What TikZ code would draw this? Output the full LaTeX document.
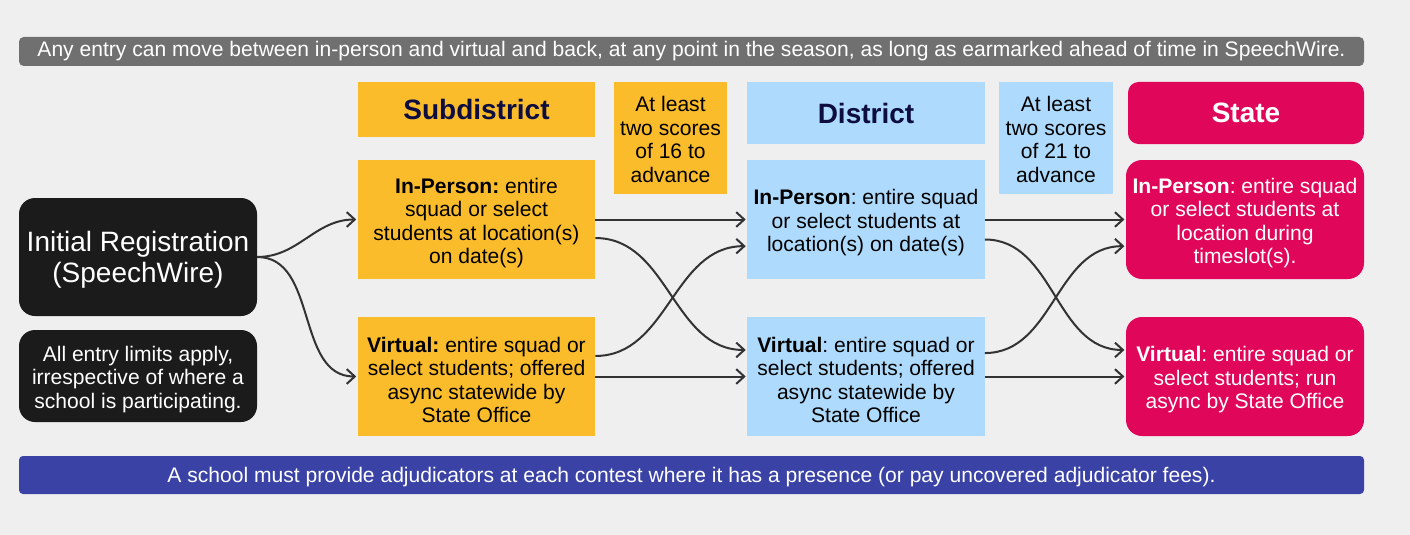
\documentclass[tikz,border=0pt]{standalone}
\usepackage{fontspec}
\setmainfont{Liberation Sans}
\usetikzlibrary{arrows.meta}
\definecolor{bgc}{HTML}{EFEFEF}
\definecolor{topc}{HTML}{707070}
\definecolor{blackc}{HTML}{1B1B1B}
\definecolor{yelc}{HTML}{FBBC2C}
\definecolor{bluec}{HTML}{AEDBFD}
\definecolor{redc}{HTML}{E0065A}
\definecolor{botc}{HTML}{3A43A5}
\definecolor{navyc}{HTML}{0D0D40}
\definecolor{arrc}{HTML}{333333}
\newcommand{\dnA}{\rule{0pt}{16.5pt}}
\newcommand{\dnB}{\rule{0pt}{20pt}}
\newcommand{\dnC}{\rule{0pt}{13.5pt}}
\newcommand{\dnD}{\rule{0pt}{15pt}}
\frenchspacing
\begin{document}
\frenchspacing
\begin{tikzpicture}[x=0.75pt,y=-0.75pt,
  bx/.style={inner sep=0pt, align=center, font=\fontsize{15.8pt}{17.6pt}\selectfont\frenchspacing, text=black},
  colbox/.style={bx, minimum width=178pt, minimum height=89.25pt},
  hdr/.style={bx, font=\fontsize{21pt}{24pt}\selectfont\bfseries, text=navyc},
  adv/.style={bx, minimum width=85pt, minimum height=84pt},
  darkbox/.style={bx, fill=blackc, text=white, rounded corners=12pt, minimum width=178.5pt},
  conn/.style={draw=arrc, line width=1.5pt, -{Straight Barb[length=6pt,width=11pt,line width=1.5pt]}}
]
\fill[bgc] (0,0) rectangle (1410,535);
\useasboundingbox (0,0) rectangle (1410,535);

% top and bottom bars
\node[bx, fill=topc, text=white, rounded corners=3.5pt, minimum width=1008.75pt, minimum height=21.75pt] (top) at (691.5,51.5)
  {Any entry can move between in-person and virtual and back, at any point in the season, as long as earmarked ahead of time in SpeechWire.};
\node[bx, fill=botc, text=white, rounded corners=3pt, minimum width=1008.75pt, minimum height=28.5pt] (bot) at (691.5,475)
  {\dnD A school must provide adjudicators at each contest where it has a presence (or pay uncovered adjudicator fees).};

% left
\node[darkbox, minimum height=88.5pt, font=\fontsize{21pt}{23.25pt}\selectfont] (init) at (138,257) {\dnB Initial Registration\\(SpeechWire)};
\node[darkbox, minimum height=69pt] (lim) at (138,376) {\dnA All entry limits apply,\\irrespective of where a\\school is participating.};

% subdistrict
\node[hdr, fill=yelc, minimum width=177.75pt, minimum height=41.25pt] (subh) at (476.5,109.5) {Subdistrict};
\node[adv, fill=yelc] (sub16) at (670.5,138) {\dnC At least\\two scores\\of 16 to\\advance};
\node[colbox, fill=yelc] (subip) at (476.5,219.5) {\dnA\textbf{In-Person:} entire\\squad or select\\students at location(s)\\on date(s)};
\node[colbox, fill=yelc] (subv) at (476.5,376.5) {\dnA\textbf{Virtual:} entire squad or\\select students; offered\\async statewide by\\State Office};

% district
\node[hdr, fill=bluec, minimum width=178.5pt, minimum height=46.5pt] (dh) at (866,113) {District};
\node[adv, fill=bluec] (d21) at (1056,138) {\dnC At least\\two scores\\of 21 to\\advance};
\node[colbox, fill=bluec] (dip) at (866,219.5) {\dnA\textbf{In-Person}: entire squad\\or select students at\\location(s) on date(s)};
\node[colbox, fill=bluec] (dv) at (866,376.5) {\dnA\textbf{Virtual}: entire squad or\\select students; offered\\async statewide by\\State Office};

% state
\node[hdr, fill=redc, text=white, rounded corners=8pt, minimum width=177pt, minimum height=46.5pt] (sh) at (1246,113) {State};
\node[colbox, fill=redc, text=white, rounded corners=12pt, minimum width=178.5pt] (sip) at (1245,219.5) {\dnA\textbf{In-Person}: entire squad\\or select students at\\location during\\timeslot(s).};
\node[colbox, fill=redc, text=white, rounded corners=12pt, minimum width=178.5pt] (sv) at (1245,376.5) {\dnA\textbf{Virtual}: entire squad or\\select students; run\\async by State Office};

% connectors
\draw[conn] (init.east) to[out=0,in=180] ([xshift=-1pt]subip.west);
\draw[conn] (init.east) to[out=0,in=180] ([xshift=-1pt]subv.west);

\draw[conn] (subip.east) -- ([xshift=-1pt]dip.west);
\draw[conn] ([yshift=-13.9pt]subip.east) to[out=0,in=180] ([xshift=-1pt,yshift=19.9pt]dv.west);
\draw[conn] ([yshift=15.4pt]subv.east) to[out=0,in=180] ([xshift=-1pt,yshift=-20pt]dip.west);
\draw[conn] (subv.east) -- ([xshift=-1pt]dv.west);

\draw[conn] (dip.east) -- ([xshift=-1pt]sip.west);
\draw[conn] ([yshift=-15pt]dip.east) to[out=0,in=180] ([xshift=-1pt,yshift=19.9pt]sv.west);
\draw[conn] ([yshift=17.6pt]dv.east) to[out=0,in=180] ([xshift=-1pt,yshift=-20pt]sip.west);
\draw[conn] (dv.east) -- ([xshift=-1pt]sv.west);
\end{tikzpicture}
\end{document}
